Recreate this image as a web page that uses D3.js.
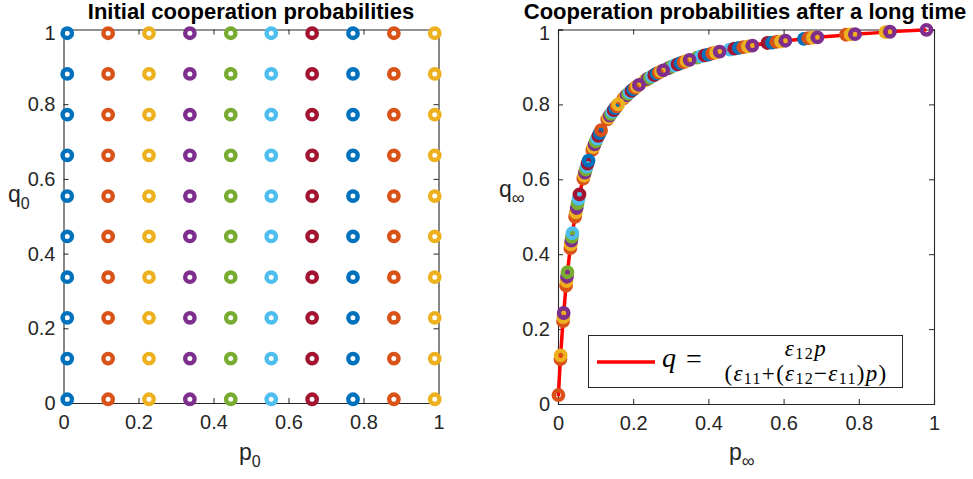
<!DOCTYPE html>
<html><head><meta charset="utf-8">
<script src="https://cdn.jsdelivr.net/npm/d3@7"></script>
<style>
html,body{margin:0;padding:0;background:#fff;}
svg{display:block;}
</style></head>
<body>
<svg id="chart" width="973" height="479"></svg>
<script>
// ---------- data ----------
const ticks = [0, 0.2, 0.4, 0.6, 0.8, 1];
const tickLabels = ["0", "0.2", "0.4", "0.6", "0.8", "1"];
const matlabColors = ["#0072BD", "#D95319", "#EDB120", "#7E2F8E", "#77AC30", "#4DBEEE", "#A2142F"];

// initial grid (columns = p0 values, rows = q0 values)
const p0 = [0.01, 0.119, 0.228, 0.337, 0.446, 0.554, 0.663, 0.772, 0.881, 0.99];
const q0 = [0.01, 0.119, 0.228, 0.337, 0.446, 0.554, 0.663, 0.772, 0.881, 0.99];

// final states, one row per initial p0 column, entries in q0 order
const pInf = [
  [0.0012, 0.0065, 0.0133, 0.0215, 0.0328, 0.0455, 0.0672, 0.0913, 0.131, 0.1744],
  [0.0071, 0.0142, 0.0227, 0.0341, 0.0476, 0.0693, 0.0942, 0.1342, 0.1783, 0.232],
  [0.0151, 0.0239, 0.0355, 0.0498, 0.0715, 0.0973, 0.1375, 0.1823, 0.238, 0.294],
  [0.0252, 0.0369, 0.0521, 0.0738, 0.1004, 0.1409, 0.1865, 0.244, 0.302, 0.37],
  [0.0384, 0.0546, 0.0762, 0.1037, 0.1444, 0.1908, 0.25, 0.31, 0.38, 0.457],
  [0.0571, 0.0787, 0.1072, 0.1481, 0.1953, 0.256, 0.318, 0.39, 0.469, 0.557],
  [0.0813, 0.1108, 0.1519, 0.2, 0.262, 0.326, 0.40, 0.481, 0.569, 0.654],
  [0.1146, 0.1559, 0.2049, 0.268, 0.334, 0.41, 0.493, 0.581, 0.666, 0.766],
  [0.16, 0.2099, 0.274, 0.342, 0.42, 0.505, 0.593, 0.678, 0.778, 0.871],
  [0.2152, 0.28, 0.35, 0.43, 0.517, 0.605, 0.69, 0.79, 0.883, 0.98]
];
const qInf = [
  [0.024, 0.12, 0.221, 0.316, 0.416, 0.50, 0.602, 0.6785, 0.76, 0.816],
  [0.13, 0.232, 0.328, 0.426, 0.512, 0.61, 0.686, 0.765, 0.82, 0.864],
  [0.243, 0.34, 0.436, 0.524, 0.618, 0.6935, 0.77, 0.824, 0.868, 0.897],
  [0.352, 0.446, 0.536, 0.626, 0.701, 0.775, 0.828, 0.871, 0.901, 0.925],
  [0.456, 0.548, 0.634, 0.7085, 0.78, 0.832, 0.875, 0.904, 0.928, 0.946],
  [0.56, 0.642, 0.716, 0.785, 0.836, 0.878, 0.907, 0.931, 0.949, 0.964],
  [0.65, 0.7235, 0.79, 0.84, 0.882, 0.910, 0.933, 0.951, 0.965, 0.975],
  [0.731, 0.795, 0.844, 0.885, 0.913, 0.936, 0.953, 0.967, 0.977, 0.986],
  [0.80, 0.848, 0.888, 0.916, 0.938, 0.955, 0.968, 0.978, 0.987, 0.993],
  [0.852, 0.891, 0.919, 0.941, 0.957, 0.970, 0.979, 0.9875, 0.994, 0.999]
];

// red theoretical curve
const curveP = [0.001, 0.002, 0.005, 0.01, 0.015, 0.02, 0.03, 0.04, 0.05, 0.06, 0.08, 0.1, 0.125, 0.15, 0.2, 0.25, 0.3, 0.4, 0.5, 0.6, 0.7, 0.8, 0.9, 0.98];
const curveQ = [0.021, 0.040, 0.096, 0.175, 0.242, 0.300, 0.394, 0.467, 0.525, 0.573, 0.646, 0.700, 0.750, 0.788, 0.840, 0.875, 0.900, 0.933, 0.955, 0.969, 0.980, 0.988, 0.995, 0.999];

// ---------- drawing ----------
const svg = d3.select("#chart");
const AX = "#262626";
const FONT = "'Liberation Sans', Arial, Helvetica, sans-serif";

function drawAxes(g, x, y) {
  const fmt = d => tickLabels[ticks.indexOf(d)];
  const [x0, x1] = x.range(), [y0, y1] = y.range();
  const bottom = g.append("g").attr("transform", `translate(0,${y0})`)
    .call(d3.axisBottom(x).tickValues(ticks).tickFormat(fmt).tickSize(-5).tickPadding(12));
  const top = g.append("g").attr("transform", `translate(0,${y1})`)
    .call(d3.axisTop(x).tickValues(ticks).tickFormat("").tickSize(-5));
  const left = g.append("g").attr("transform", `translate(${x0},0)`)
    .call(d3.axisLeft(y).tickValues(ticks).tickFormat(fmt).tickSize(-5).tickPadding(8));
  const right = g.append("g").attr("transform", `translate(${x1},0)`)
    .call(d3.axisRight(y).tickValues(ticks).tickFormat("").tickSize(-5));
  [bottom, top, left, right].forEach(a => {
    a.select(".domain").attr("stroke", AX).attr("stroke-width", 1.1);
    a.selectAll(".tick line").attr("stroke", AX).attr("stroke-width", 1);
    a.selectAll("text").attr("fill", AX).style("font-family", FONT).style("font-size", "20px");
  });
  // nudge the top y label down slightly so it clears the title
  left.selectAll(".tick text").filter(d => d === 1).attr("dy", "0.5em");
}

function markers(g, x, y, xs, ys, colorOffset) {
  xs.forEach((col, c) => {
    const color = matlabColors[(c + colorOffset) % matlabColors.length];
    g.append("g").selectAll("circle").data(col.map((v, r) => [v, ys[c][r]])).join("circle")
      .attr("cx", d => x(d[0])).attr("cy", d => y(d[1]))
      .attr("r", 4.7).attr("fill", "none").attr("stroke", color).attr("stroke-width", 4.4);
  });
}

// ----- left panel -----
const xL = d3.scaleLinear().domain([0, 1]).range([63.5, 438.5]);
const yL = d3.scaleLinear().domain([0, 1]).range([403, 29.5]);
const gL = svg.append("g");
drawAxes(gL, xL, yL);
const gridP = p0.map(p => q0.map(() => p));
const gridQ = p0.map(() => q0.slice());
markers(gL, xL, yL, gridP, gridQ, 0);

gL.append("text").attr("x", 251).attr("y", 19).attr("text-anchor", "middle")
  .style("font-family", FONT).style("font-weight", "bold").style("font-size", "22px").attr("fill", "#000")
  .text("Initial cooperation probabilities");
const pl = gL.append("text").attr("x", 239).attr("y", 460).style("font-family", FONT).style("font-size", "23px").attr("fill", AX);
pl.append("tspan").text("p");
pl.append("tspan").attr("dy", 7).style("font-size", "16px").text("0");
const ql = gL.append("text").attr("x", 8).attr("y", 202).style("font-family", FONT).style("font-size", "23px").attr("fill", AX);
ql.append("tspan").text("q");
ql.append("tspan").attr("dy", 7).style("font-size", "16px").text("0");

// ----- right panel -----
const xR = d3.scaleLinear().domain([0, 1]).range([558, 934]);
const yR = d3.scaleLinear().domain([0, 1]).range([404, 29.5]);
const gR = svg.append("g");
drawAxes(gR, xR, yR);
const line = d3.line().x(d => xR(d[0])).y(d => yR(d[1])).curve(d3.curveMonotoneX);
gR.append("path").datum(curveP.map((p, i) => [p, curveQ[i]]))
  .attr("d", line).attr("fill", "none").attr("stroke", "#FF0000").attr("stroke-width", 3.5);
markers(gR, xR, yR, pInf, qInf, 1);

gR.append("text").attr("x", 745).attr("y", 19).attr("text-anchor", "middle")
  .style("font-family", FONT).style("font-weight", "bold").style("font-size", "22px").attr("fill", "#000")
  .text("Cooperation probabilities after a long time");
const pr = gR.append("text").attr("x", 729).attr("y", 460).style("font-family", FONT).style("font-size", "23px").attr("fill", AX);
pr.append("tspan").text("p");
pr.append("tspan").attr("dy", 7).style("font-size", "18px").text("∞");
const qr = gR.append("text").attr("x", 499).attr("y", 197).style("font-family", FONT).style("font-size", "23px").attr("fill", AX);
qr.append("tspan").text("q");
qr.append("tspan").attr("dy", 7).style("font-size", "18px").text("∞");

// legend
const lg = gR.append("g");
lg.append("rect").attr("x", 588.5).attr("y", 335.5).attr("width", 314).attr("height", 52)
  .attr("fill", "#fff").attr("stroke", AX).attr("stroke-width", 1);
lg.append("line").attr("x1", 597).attr("x2", 655).attr("y1", 362).attr("y2", 362)
  .attr("stroke", "#FF0000").attr("stroke-width", 3.5);
const SERIF = "'Liberation Serif', 'DejaVu Serif', serif";
lg.append("text").attr("x", 662).attr("y", 367).style("font-family", SERIF).style("font-style", "italic")
  .style("font-size", "28px").attr("fill", "#000").text("q");
lg.append("text").attr("x", 686).attr("y", 368).style("font-family", SERIF)
  .style("font-size", "28px").attr("fill", "#000").text("=");
const num = lg.append("text").attr("x", 806).attr("y", 356).attr("text-anchor", "middle")
  .style("font-family", SERIF).style("font-size", "23px").style("letter-spacing", "1.5px").attr("fill", "#000");
num.append("tspan").style("font-style", "italic").text("ε");
num.append("tspan").attr("dy", 3).style("font-size", "16px").text("12");
num.append("tspan").attr("dy", -3).style("font-style", "italic").text("p");
const den = lg.append("text").attr("x", 806).attr("y", 381).attr("text-anchor", "middle")
  .style("font-family", SERIF).style("font-size", "23px").style("letter-spacing", "1.3px").attr("fill", "#000");
den.append("tspan").text("(");
den.append("tspan").style("font-style", "italic").text("ε");
den.append("tspan").attr("dy", 3).style("font-size", "16px").text("11");
den.append("tspan").attr("dy", -3).text("+(");
den.append("tspan").style("font-style", "italic").text("ε");
den.append("tspan").attr("dy", 3).style("font-size", "16px").text("12");
den.append("tspan").attr("dy", -3).text("−");
den.append("tspan").style("font-style", "italic").text("ε");
den.append("tspan").attr("dy", 3).style("font-size", "16px").text("11");
den.append("tspan").attr("dy", -3).text(")");
den.append("tspan").style("font-style", "italic").text("p");
den.append("tspan").text(")");
</script>
</body></html>
